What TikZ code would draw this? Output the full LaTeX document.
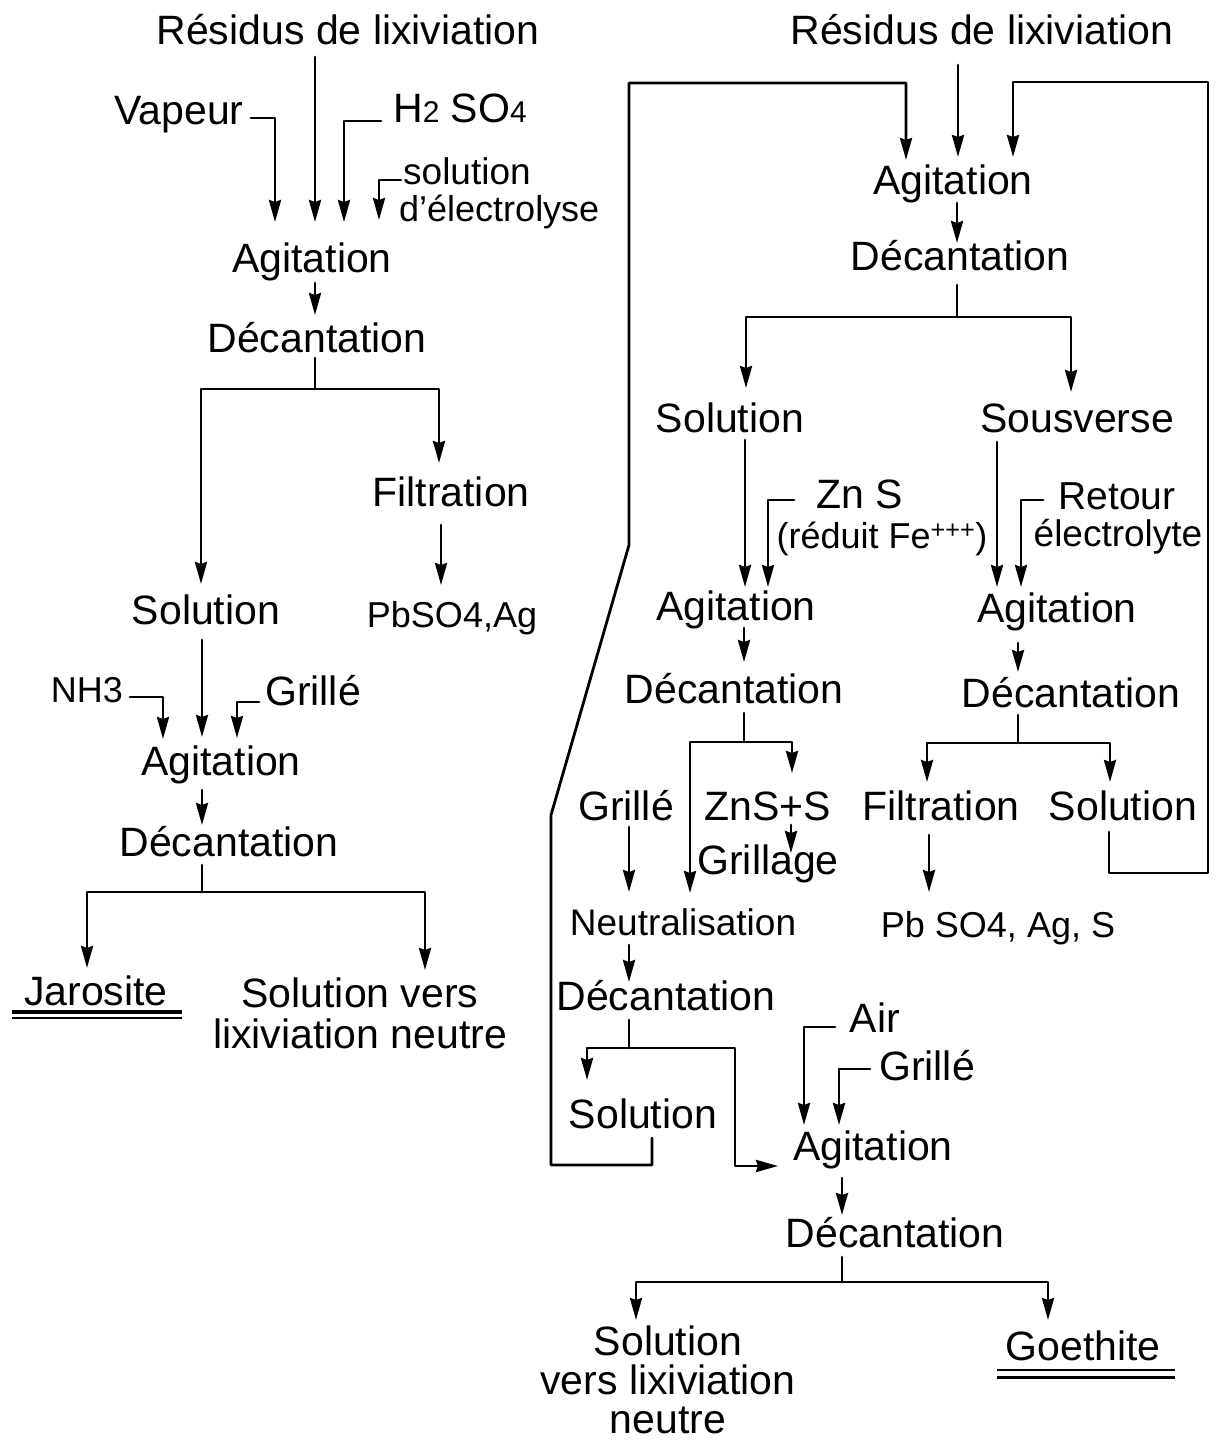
\documentclass[tikz,border=0pt]{standalone}
\usepackage{fontspec}
\setmainfont{Liberation Sans}
\usetikzlibrary{arrows.meta}
\begin{document}
\begin{tikzpicture}[x=1pt,y=-1pt,
  lbl/.style={inner sep=0pt, anchor=base, font=\fontsize{41}{41}\selectfont},
  ln/.style={line width=2.8pt, line cap=round, line join=round},
  arr/.style={ln, -{Stealth[length=22pt,width=12pt,inset=2pt]}},
]
\useasboundingbox (0,0) rectangle (1220,1442);
\fill[white] (0,0) rectangle (1220,1442);

% ---------- left flow: labels ----------
\node[lbl] (res1) at (348,45) {Résidus de lixiviation};
\node[lbl] (vap) at (179,125) {Vapeur};
\node[lbl] (h2so4) at (460,123) {H{\fontsize{30}{30}\selectfont 2} SO{\fontsize{30}{30}\selectfont 4}};
\node[lbl, anchor=base west, font=\fontsize{37}{37}\selectfont] (sola) at (403,185) {solution};
\node[lbl, anchor=base west, font=\fontsize{36}{36}\selectfont] (solb) at (399,221) {d'électrolyse};
\node[lbl] (ag1) at (312,272) {Agitation};
\node[lbl] (dec1) at (317,352) {Décantation};
\node[lbl] (fil1) at (451,506) {Filtration};
\node[lbl] (sol1) at (206,624) {Solution};
\node[lbl, font=\fontsize{36}{36}\selectfont] (pb1) at (452,627) {PbSO4,Ag};
\node[lbl, font=\fontsize{36}{36}\selectfont] (nh3) at (87,702) {NH3};
\node[lbl] (gr1) at (313,705) {Grillé};
\node[lbl] (ag2) at (221,775) {Agitation};
\node[lbl] (dec2) at (229,856) {Décantation};
\node[lbl] (jar) at (96,1005) {Jarosite};
\node[lbl, align=center] (solv1) at (360,1048) {Solution vers\\lixiviation neutre};

\draw[line width=3.2pt] (12,1012) -- (182,1012);
\draw[line width=2pt] (12,1018) -- (182,1018);

% ---------- right flow: labels ----------
\node[lbl] (res2) at (982,45) {Résidus de lixiviation};
\node[lbl] (ag3) at (953,194) {Agitation};
\node[lbl] (dec3) at (960,270) {Décantation};
\node[lbl] (sol2) at (730,432) {Solution};
\node[lbl] (sous) at (1077,432) {Sousverse};
\node[lbl] (zns) at (860,508) {Zn S};
\node[lbl, font=\fontsize{36}{36}\selectfont] (red) at (882,548) {(réduit Fe\textsuperscript{+++})};
\node[lbl, font=\fontsize{39}{39}\selectfont] (ret) at (1117,509) {Retour};
\node[lbl, font=\fontsize{37}{37}\selectfont] (elec) at (1118,546) {électrolyte};
\node[lbl] (ag4) at (736,620) {Agitation};
\node[lbl] (ag5) at (1057,622) {Agitation};
\node[lbl] (dec4) at (734,703) {Décantation};
\node[lbl] (dec5) at (1071,707) {Décantation};
\node[lbl] (gr2) at (626,820) {Grillé};
\node[lbl] (zss) at (768,820) {ZnS+S};
\node[lbl] (fil2) at (941,820) {Filtration};
\node[lbl] (sol3) at (1123,820) {Solution};
\node[lbl] (grg) at (768,874) {Grillage};
\node[lbl, font=\fontsize{37}{37}\selectfont] (neu) at (683,935) {Neutralisation};
\node[lbl, font=\fontsize{36}{36}\selectfont] (pb2) at (998,937) {Pb SO4, Ag, S};
\node[lbl] (dec6) at (666,1010) {Décantation};
\node[lbl] (air) at (875,1032) {Air};
\node[lbl] (gr3) at (927,1080) {Grillé};
\node[lbl] (sol4) at (643,1128) {Solution};
\node[lbl] (ag6) at (873,1160) {Agitation};
\node[lbl] (dec7) at (895,1247) {Décantation};
\node[lbl, align=center, font=\fontsize{41}{39}\selectfont] (solv2) at (668,1433) {Solution\\vers lixiviation\\neutre};
\node[lbl] (goe) at (1083,1360) {Goethite};

\draw[line width=2.4pt] (997,1370) -- (1175,1370);
\draw[line width=3pt] (997,1377) -- (1175,1377);

% ---------- connector points ----------
\path
 (315,57) coordinate (a1) (315,222) coordinate (a2)
 (251,118) coordinate (v1) (275,118) coordinate (v2) (275,222) coordinate (v3)
 (381,121) coordinate (h1) (344,121) coordinate (h2) (344,222) coordinate (h3)
 (401,180) coordinate (e1) (379,180) coordinate (e2) (379,220) coordinate (e3)
 (315,283) coordinate (a3) (315,315) coordinate (a4)
 (315,358) coordinate (d1) (315,389) coordinate (d2) (201,584) coordinate (d3) (439,463) coordinate (d4)
 (441,525) coordinate (f1) (441,585) coordinate (f2)
 (202,640) coordinate (s1) (202,737) coordinate (s2)
 (130,697) coordinate (n1) (163,697) coordinate (n2) (163,739) coordinate (n3)
 (259,702) coordinate (g1) (237,702) coordinate (g2) (237,738) coordinate (g3)
 (202,790) coordinate (a5) (202,825) coordinate (a6)
 (202,865) coordinate (d5) (202,892) coordinate (d6) (87,968) coordinate (d7) (425,970) coordinate (d8);

\path
 (958,65) coordinate (r1) (958,157) coordinate (r2)
 (652,1138) coordinate (p1) (652,1165) coordinate (p2) (551,1165) coordinate (p3)
 (551,815) coordinate (p4) (629,545) coordinate (p5) (629,83) coordinate (p6)
 (906,83) coordinate (p7) (906,160) coordinate (p8)
 (1109,832) coordinate (q1) (1109,873) coordinate (q2) (1208,873) coordinate (q3)
 (1208,82) coordinate (q4) (1013,82) coordinate (q5) (1013,157) coordinate (q6)
 (957,203) coordinate (r3) (957,243) coordinate (r4)
 (957,285) coordinate (r5) (957,317) coordinate (r6) (746,388) coordinate (r7) (1071,392) coordinate (r8)
 (745,440) coordinate (s3) (745,587) coordinate (s4)
 (794,500) coordinate (z1) (768,500) coordinate (z2) (768,587) coordinate (z3)
 (997,442) coordinate (u1) (997,587) coordinate (u2)
 (1043,500) coordinate (t1) (1021,500) coordinate (t2) (1021,587) coordinate (t3)
 (744,628) coordinate (b1) (744,662) coordinate (b2)
 (1018,643) coordinate (b3) (1018,672) coordinate (b4)
 (744,713) coordinate (k1) (744,742) coordinate (k2) (690,893) coordinate (k3) (792,773) coordinate (k4)
 (1018,715) coordinate (m1) (1018,743) coordinate (m2) (927,782) coordinate (m3) (1110,782) coordinate (m4)
 (791,825) coordinate (w1) (791,853) coordinate (w2)
 (629,827) coordinate (w3) (629,892) coordinate (w4)
 (929,835) coordinate (w5) (929,892) coordinate (w6)
 (629,945) coordinate (w7) (629,982) coordinate (w8)
 (629,1020) coordinate (o1) (629,1048) coordinate (o2) (587,1080) coordinate (o3)
 (735,1166) coordinate (o4) (778,1166) coordinate (o5)
 (835,1027) coordinate (i1) (804,1027) coordinate (i2) (804,1125) coordinate (i3)
 (870,1069) coordinate (j1) (839,1069) coordinate (j2) (839,1125) coordinate (j3)
 (842,1178) coordinate (y1) (842,1215) coordinate (y2)
 (842,1257) coordinate (y3) (842,1282) coordinate (y4) (636,1320) coordinate (y5) (1048,1320) coordinate (y6);

% ---------- left connectors ----------
\draw[arr] (a1) -- (a2);
\draw[arr] (v1) -- (v2) -- (v3);
\draw[arr] (h1) -- (h2) -- (h3);
\draw[arr] (e1) -- (e2) -- (e3);
\draw[arr] (a3) -- (a4);
\draw[ln] (d1) -- (d2);
\draw[arr] (d2) -| (d3);
\draw[arr] (d2) -| (d4);
\draw[arr] (f1) -- (f2);
\draw[arr] (s1) -- (s2);
\draw[arr] (n1) -- (n2) -- (n3);
\draw[arr] (g1) -- (g2) -- (g3);
\draw[arr] (a5) -- (a6);
\draw[ln] (d5) -- (d6);
\draw[arr] (d6) -| (d7);
\draw[arr] (d6) -| (d8);

% ---------- right connectors ----------
\draw[arr] (r1) -- (r2);
\draw[arr] (p1) -- (p2) -- (p3) -- (p4) -- (p5) -- (p6) -- (p7) -- (p8);
\draw[arr] (q1) -- (q2) -- (q3) -- (q4) -- (q5) -- (q6);
\draw[arr] (r3) -- (r4);
\draw[ln] (r5) -- (r6);
\draw[arr] (r6) -| (r7);
\draw[arr] (r6) -| (r8);
\draw[arr] (s3) -- (s4);
\draw[arr] (z1) -- (z2) -- (z3);
\draw[arr] (u1) -- (u2);
\draw[arr] (t1) -- (t2) -- (t3);
\draw[arr] (b1) -- (b2);
\draw[arr] (b3) -- (b4);
\draw[ln] (k1) -- (k2);
\draw[arr] (k2) -| (k3);
\draw[arr] (k2) -| (k4);
\draw[ln] (m1) -- (m2);
\draw[arr] (m2) -| (m3);
\draw[arr] (m2) -| (m4);
\draw[arr] (w1) -- (w2);
\draw[arr] (w3) -- (w4);
\draw[arr] (w5) -- (w6);
\draw[arr] (w7) -- (w8);
\draw[ln] (o1) -- (o2);
\draw[arr] (o2) -| (o3);
\draw[arr] (o2) -| (o4) -- (o5);
\draw[arr] (i1) -- (i2) -- (i3);
\draw[arr] (j1) -- (j2) -- (j3);
\draw[arr] (y1) -- (y2);
\draw[ln] (y3) -- (y4);
\draw[arr] (y4) -| (y5);
\draw[arr] (y4) -| (y6);
\end{tikzpicture}
\end{document}
